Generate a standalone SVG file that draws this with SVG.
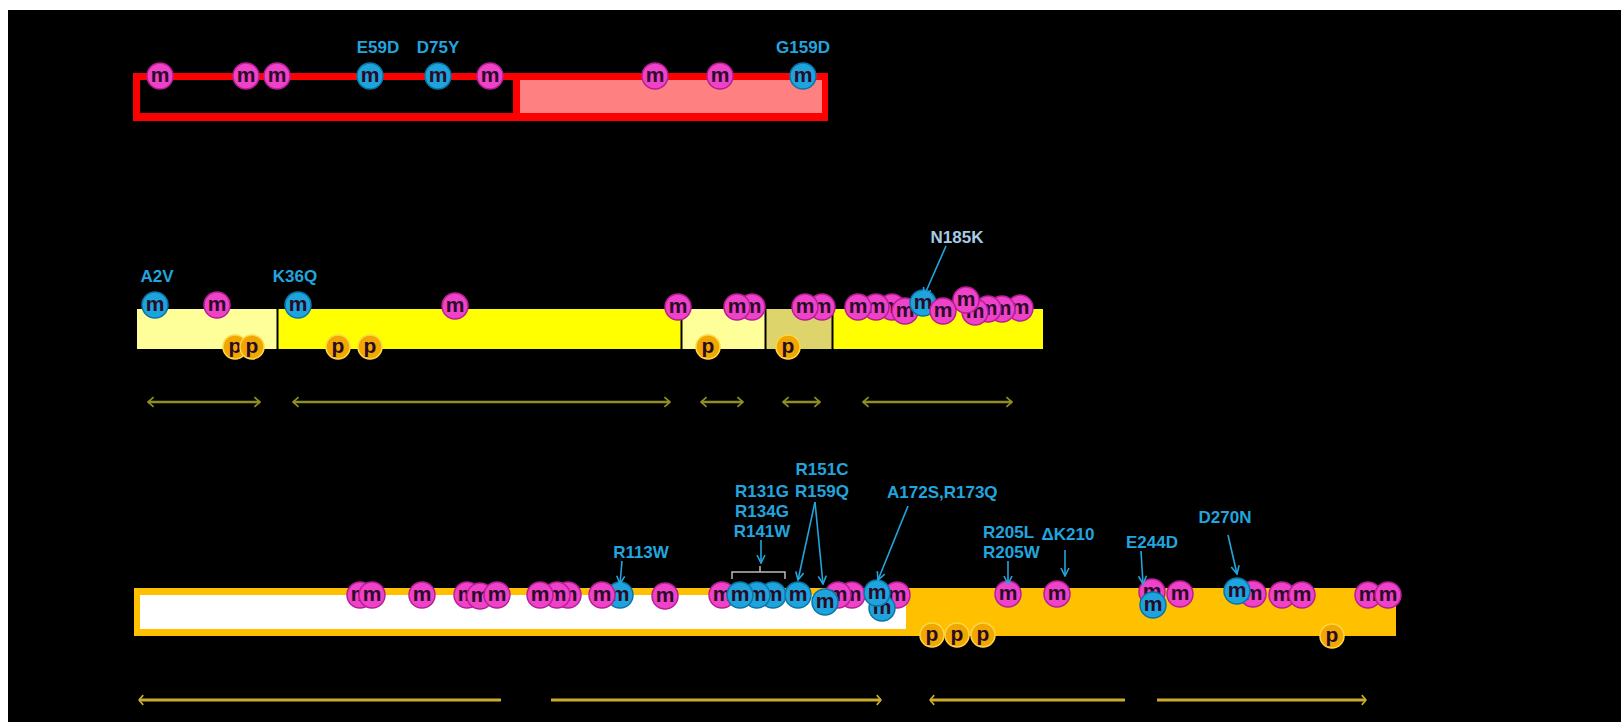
<svg xmlns="http://www.w3.org/2000/svg" width="1621" height="722" viewBox="0 0 1621 722">
<defs>
<style>
.mm{fill:#EE42C8;stroke:#B81E96;stroke-width:1.5}
.mb{fill:#1EA4DC;stroke:#0C74A6;stroke-width:1.5}
.pp{fill:#F0A800;stroke:#FFD54A;stroke-width:1.5}
.lt{font-family:"Liberation Sans",Arial,sans-serif;font-weight:bold;font-size:21px;fill:#2A0A26;text-anchor:middle}
.lb{font-family:"Liberation Sans",Arial,sans-serif;font-weight:bold;font-size:17px;fill:#22A5DE}
.ar{stroke:#22A5DE;stroke-width:1.6;fill:none}
.da{stroke:#8E8E24;stroke-width:2.5;fill:none}
.db{stroke:#CBAA2E;stroke-width:3;fill:none}
</style>
<marker id="ah" viewBox="0 0 10 10" refX="9" refY="5" markerWidth="10" markerHeight="10" markerUnits="userSpaceOnUse" orient="auto"><path d="M1,1 L9,5 L1,9" fill="none" stroke="#22A5DE" stroke-width="1.6"/></marker>
<marker id="dm" viewBox="0 0 10 14" refX="9" refY="7" markerWidth="8" markerHeight="14" markerUnits="userSpaceOnUse" orient="auto-start-reverse"><path d="M2,1 L9,7 L2,13" fill="none" stroke="#8E8E24" stroke-width="2.2"/></marker>
<marker id="dg" viewBox="0 0 10 16" refX="9" refY="8" markerWidth="7" markerHeight="16" markerUnits="userSpaceOnUse" orient="auto-start-reverse"><path d="M3,1 L9,8 L3,15" fill="none" stroke="#CBAA2E" stroke-width="2.4"/></marker>
</defs>
<rect x="0" y="0" width="1621" height="722" fill="#ffffff"/>
<rect x="8" y="10" width="1613" height="712" fill="#000000"/>

<g id="bar-top">
<rect x="133" y="73" width="695" height="48" fill="#FF0000"/>
<rect x="140" y="80" width="373" height="33" fill="#000000"/>
<rect x="520" y="80" width="302" height="33" fill="#FF8080"/>
</g>

<g id="bar-middle">
<rect x="137" y="309" width="906" height="40" fill="#FFFF00"/>
<rect x="137" y="309" width="140" height="40" fill="#FFFF99"/>
<rect x="682" y="309" width="83" height="40" fill="#FFFF99"/>
<rect x="766" y="309" width="66" height="40" fill="#DDD46C"/>
<line x1="277.5" y1="309" x2="277.5" y2="349" stroke="#000" stroke-width="2"/>
<line x1="681.5" y1="309" x2="681.5" y2="349" stroke="#000" stroke-width="2"/>
<line x1="765.5" y1="309" x2="765.5" y2="349" stroke="#000" stroke-width="2"/>
<line x1="832.5" y1="309" x2="832.5" y2="349" stroke="#000" stroke-width="2"/>
</g>

<g id="bar-bottom">
<rect x="134" y="588" width="1262" height="48" fill="#FFC000"/>
<rect x="140" y="595" width="766" height="34" fill="#FFFFFF"/>
</g>

<g id="sites-top">
<circle class="mm" cx="160" cy="76" r="13"/><text class="lt" x="160" y="82">m</text>
<circle class="mm" cx="246" cy="76" r="13"/><text class="lt" x="246" y="82">m</text>
<circle class="mm" cx="277" cy="76" r="13"/><text class="lt" x="277" y="82">m</text>
<circle class="mb" cx="370" cy="76" r="13"/><text class="lt" x="370" y="82">m</text>
<circle class="mb" cx="438" cy="76" r="13"/><text class="lt" x="438" y="82">m</text>
<circle class="mm" cx="490" cy="76" r="13"/><text class="lt" x="490" y="82">m</text>
<circle class="mm" cx="655" cy="76" r="13"/><text class="lt" x="655" y="82">m</text>
<circle class="mm" cx="720" cy="76" r="13"/><text class="lt" x="720" y="82">m</text>
<circle class="mb" cx="803" cy="76" r="13"/><text class="lt" x="803" y="82">m</text>
</g>

<g id="sites-middle">
<circle class="mb" cx="155" cy="305" r="13"/><text class="lt" x="155" y="311">m</text>
<circle class="mm" cx="217" cy="305" r="13"/><text class="lt" x="217" y="311">m</text>
<circle class="mb" cx="298" cy="305" r="13"/><text class="lt" x="298" y="311">m</text>
<circle class="mm" cx="455" cy="306" r="13"/><text class="lt" x="455" y="312">m</text>
<circle class="mm" cx="678" cy="307" r="13"/><text class="lt" x="678" y="313">m</text>
<circle class="mm" cx="752" cy="307" r="13"/><text class="lt" x="752" y="313">m</text>
<circle class="mm" cx="737" cy="307" r="13"/><text class="lt" x="737" y="313">m</text>
<circle class="mm" cx="822" cy="307" r="13"/><text class="lt" x="822" y="313">m</text>
<circle class="mm" cx="805" cy="307" r="13"/><text class="lt" x="805" y="313">m</text>
<circle class="mm" cx="892" cy="307" r="13"/><text class="lt" x="892" y="313">m</text>
<circle class="mm" cx="876" cy="307" r="13"/><text class="lt" x="876" y="313">m</text>
<circle class="mm" cx="858" cy="307" r="13"/><text class="lt" x="858" y="313">m</text>
<circle class="mm" cx="905" cy="311" r="13"/><text class="lt" x="905" y="317">m</text>
<circle class="mm" cx="1020" cy="308" r="13"/><text class="lt" x="1020" y="314">m</text>
<circle class="mm" cx="1002" cy="309" r="13"/><text class="lt" x="1002" y="315">m</text>
<circle class="mm" cx="988" cy="309" r="13"/><text class="lt" x="988" y="315">m</text>
<circle class="mm" cx="975" cy="312" r="13"/><text class="lt" x="975" y="318">m</text>
<circle class="mm" cx="966" cy="300" r="13"/><text class="lt" x="966" y="306">m</text>
<circle class="mb" cx="923" cy="303" r="13"/><text class="lt" x="923" y="309">m</text>
<circle class="mm" cx="943" cy="311" r="13"/><text class="lt" x="943" y="317">m</text>
<circle class="pp" cx="235" cy="347" r="12"/><text class="lt" x="235" y="353">p</text>
<circle class="pp" cx="252" cy="347" r="12"/><text class="lt" x="252" y="353">p</text>
<circle class="pp" cx="338" cy="347" r="12"/><text class="lt" x="338" y="353">p</text>
<circle class="pp" cx="370" cy="347" r="12"/><text class="lt" x="370" y="353">p</text>
<circle class="pp" cx="708" cy="347" r="12"/><text class="lt" x="708" y="353">p</text>
<circle class="pp" cx="788" cy="347" r="12"/><text class="lt" x="788" y="353">p</text>
</g>

<g id="sites-bottom">
<circle class="mm" cx="360" cy="595" r="13"/><text class="lt" x="360" y="601">m</text>
<circle class="mm" cx="372" cy="595" r="13"/><text class="lt" x="372" y="601">m</text>
<circle class="mm" cx="422" cy="595" r="13"/><text class="lt" x="422" y="601">m</text>
<circle class="mm" cx="467" cy="595" r="13"/><text class="lt" x="467" y="601">m</text>
<circle class="mm" cx="480" cy="596" r="13"/><text class="lt" x="480" y="602">m</text>
<circle class="mm" cx="497" cy="595" r="13"/><text class="lt" x="497" y="601">m</text>
<circle class="mm" cx="568" cy="595" r="13"/><text class="lt" x="568" y="601">m</text>
<circle class="mm" cx="557" cy="595" r="13"/><text class="lt" x="557" y="601">m</text>
<circle class="mm" cx="540" cy="595" r="13"/><text class="lt" x="540" y="601">m</text>
<circle class="mb" cx="620" cy="595" r="13"/><text class="lt" x="620" y="601">m</text>
<circle class="mm" cx="602" cy="595" r="13"/><text class="lt" x="602" y="601">m</text>
<circle class="mm" cx="665" cy="596" r="13"/><text class="lt" x="665" y="602">m</text>
<circle class="mm" cx="722" cy="595" r="13"/><text class="lt" x="722" y="601">m</text>
<circle class="mb" cx="773" cy="595" r="13"/><text class="lt" x="773" y="601">m</text>
<circle class="mb" cx="757" cy="595" r="13"/><text class="lt" x="757" y="601">m</text>
<circle class="mb" cx="740" cy="595" r="13"/><text class="lt" x="740" y="601">m</text>
<circle class="mm" cx="852" cy="595" r="13"/><text class="lt" x="852" y="601">m</text>
<circle class="mm" cx="838" cy="595" r="13"/><text class="lt" x="838" y="601">m</text>
<circle class="mb" cx="798" cy="595" r="13"/><text class="lt" x="798" y="601">m</text>
<circle class="mb" cx="825" cy="602" r="13"/><text class="lt" x="825" y="608">m</text>
<circle class="mm" cx="897" cy="595" r="13"/><text class="lt" x="897" y="601">m</text>
<circle class="mb" cx="882" cy="608" r="13"/><text class="lt" x="882" y="614">m</text>
<circle class="mb" cx="877" cy="593" r="13"/><text class="lt" x="877" y="599">m</text>
<circle class="mm" cx="1008" cy="594" r="13"/><text class="lt" x="1008" y="600">m</text>
<circle class="mm" cx="1057" cy="594" r="13"/><text class="lt" x="1057" y="600">m</text>
<circle class="mm" cx="1152" cy="592" r="13"/><text class="lt" x="1152" y="598">m</text>
<circle class="mm" cx="1180" cy="594" r="13"/><text class="lt" x="1180" y="600">m</text>
<circle class="mb" cx="1153" cy="605" r="13"/><text class="lt" x="1153" y="611">m</text>
<circle class="mm" cx="1253" cy="594" r="13"/><text class="lt" x="1253" y="600">m</text>
<circle class="mb" cx="1237" cy="591" r="13"/><text class="lt" x="1237" y="597">m</text>
<circle class="mm" cx="1282" cy="595" r="13"/><text class="lt" x="1282" y="601">m</text>
<circle class="mm" cx="1302" cy="595" r="13"/><text class="lt" x="1302" y="601">m</text>
<circle class="mm" cx="1368" cy="595" r="13"/><text class="lt" x="1368" y="601">m</text>
<circle class="mm" cx="1388" cy="595" r="13"/><text class="lt" x="1388" y="601">m</text>
<circle class="pp" cx="932" cy="635" r="12"/><text class="lt" x="932" y="641">p</text>
<circle class="pp" cx="957" cy="635" r="12"/><text class="lt" x="957" y="641">p</text>
<circle class="pp" cx="983" cy="635" r="12"/><text class="lt" x="983" y="641">p</text>
<circle class="pp" cx="1332" cy="636" r="12"/><text class="lt" x="1332" y="642">p</text>
</g>

<g id="labels">
<text class="lb" x="378" y="53" text-anchor="middle">E59D</text>
<text class="lb" x="438" y="53" text-anchor="middle">D75Y</text>
<text class="lb" x="803" y="53" text-anchor="middle">G159D</text>
<text class="lb" x="157" y="282" text-anchor="middle">A2V</text>
<text class="lb" x="295" y="282" text-anchor="middle">K36Q</text>
<text class="lb" x="957" y="243" text-anchor="middle" style="fill:#A8CBE4">N185K</text>
<text class="lb" x="641" y="558" text-anchor="middle">R113W</text>
<text class="lb" x="762" y="497" text-anchor="middle">R131G</text>
<text class="lb" x="762" y="517" text-anchor="middle">R134G</text>
<text class="lb" x="762" y="537" text-anchor="middle">R141W</text>
<text class="lb" x="822" y="475" text-anchor="middle">R151C</text>
<text class="lb" x="822" y="497" text-anchor="middle">R159Q</text>
<text class="lb" x="887" y="498">A172S,R173Q</text>
<text class="lb" x="983" y="538">R205L</text>
<text class="lb" x="983" y="558">R205W</text>
<text class="lb" x="1068" y="540" text-anchor="middle">ΔK210</text>
<text class="lb" x="1152" y="548" text-anchor="middle">E244D</text>
<text class="lb" x="1225" y="523" text-anchor="middle">D270N</text>
</g>

<g id="connectors">
<line class="ar" x1="946" y1="246" x2="924" y2="296" marker-end="url(#ah)"/>
<line class="ar" x1="622" y1="561" x2="620" y2="584" marker-end="url(#ah)"/>
<line class="ar" x1="761" y1="540" x2="761" y2="563" marker-end="url(#ah)"/>
<path d="M732,579 L732,572 L785,572 L785,579 M760,572 L760,566" fill="none" stroke="#BBBBBB" stroke-width="1.5"/>
<line class="ar" x1="815" y1="502" x2="798" y2="580" marker-end="url(#ah)"/>
<line class="ar" x1="815" y1="502" x2="823" y2="584" marker-end="url(#ah)"/>
<line class="ar" x1="908" y1="506" x2="878" y2="580" marker-end="url(#ah)"/>
<line class="ar" x1="1008" y1="561" x2="1008" y2="584" marker-end="url(#ah)"/>
<line class="ar" x1="1065" y1="550" x2="1065" y2="576" marker-end="url(#ah)"/>
<line class="ar" x1="1141" y1="551" x2="1143" y2="584" marker-end="url(#ah)"/>
<line class="ar" x1="1228" y1="535" x2="1237" y2="574" marker-end="url(#ah)"/>
<line class="da" x1="148" y1="402" x2="260" y2="402" marker-start="url(#dm)" marker-end="url(#dm)"/>
<line class="da" x1="293" y1="402" x2="670" y2="402" marker-start="url(#dm)" marker-end="url(#dm)"/>
<line class="da" x1="701" y1="402" x2="743" y2="402" marker-start="url(#dm)" marker-end="url(#dm)"/>
<line class="da" x1="783" y1="402" x2="820" y2="402" marker-start="url(#dm)" marker-end="url(#dm)"/>
<line class="da" x1="863" y1="402" x2="1012" y2="402" marker-start="url(#dm)" marker-end="url(#dm)"/>
<line class="db" x1="139" y1="700" x2="501" y2="700" marker-start="url(#dg)"/>
<line class="db" x1="551" y1="700" x2="881" y2="700" marker-end="url(#dg)"/>
<line class="db" x1="930" y1="700" x2="1125" y2="700" marker-start="url(#dg)"/>
<line class="db" x1="1157" y1="700" x2="1366" y2="700" marker-end="url(#dg)"/>
</g>
</svg>
